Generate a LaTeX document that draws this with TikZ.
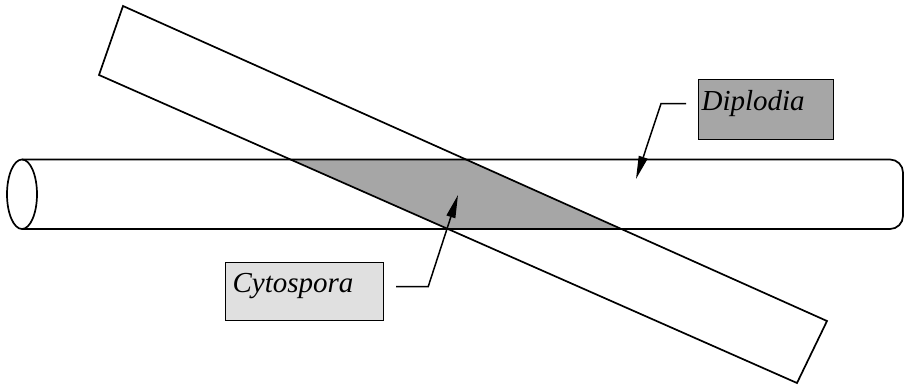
\documentclass[tikz,border=0pt]{standalone}
\usepackage{fontspec}
\setmainfont{Liberation Serif}
\usetikzlibrary{arrows.meta}
\definecolor{dgray}{HTML}{A6A6A6}
\definecolor{lgray}{HTML}{E0E0E0}
\begin{document}
\begin{tikzpicture}[x=1pt,y=-1pt,line width=1.7pt,
  lab/.style={draw,line width=1.2pt,anchor=north west,align=left,
    font=\fontsize{29}{32}\selectfont\itshape,text height=13.5pt,text depth=12.5pt},
  arr/.style={line width=1.5pt,-{Triangle[length=23pt,width=9pt]}}]
\useasboundingbox (0,0) rectangle (908,391);
% shaded intersection
\fill[dgray] (291,159.5) -- (466,159.5) -- (622,229) -- (448,229) -- cycle;
% cylinder
\draw[rounded corners=13pt] (22,159.5) -- (903,159.5) -- (903,229) -- (22,229);
\draw (22,194.25) ellipse [x radius=15pt, y radius=34.75pt];
% slanted board
\draw (123,6) -- (827,321) -- (797,383) -- (99,75) -- cycle;
% labels
\node[lab,fill=dgray,minimum width=135pt,minimum height=60pt,inner xsep=3pt,text width=129pt] (dip) at (698,79) {Diplodia};
\node[lab,fill=lgray,minimum width=158pt,minimum height=58pt,inner xsep=7pt,text width=144pt] (cyt) at (225,262) {Cytospora};
\coordinate (dipT) at (636,179);
\coordinate (cytT) at (458,195);
\draw[arr] ([xshift=-12pt,yshift=6pt]dip.west) -- +(-25,0) -- (dipT);
\draw[arr] ([xshift=12pt,yshift=5pt]cyt.east) -- +(32,0) -- (cytT);
\end{tikzpicture}
\end{document}
